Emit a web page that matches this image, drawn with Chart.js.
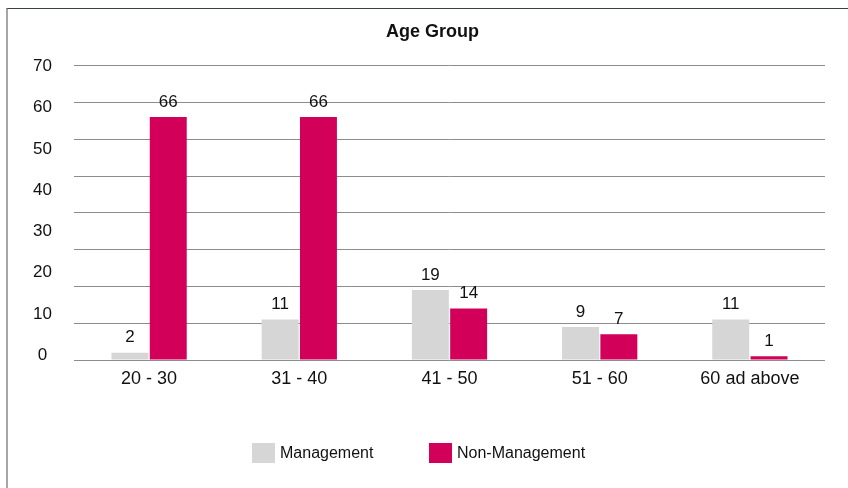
<!DOCTYPE html>
<html>
<head>
<meta charset="utf-8">
<script src="https://cdn.jsdelivr.net/npm/chart.js@4.4.1/dist/chart.umd.min.js"></script>
<style>
  html, body { margin: 0; padding: 0; background: #fff; }
  #wrap { position: relative; width: 848px; height: 488px; overflow: hidden; }
  #frame {
    position: absolute; left: 6px; top: 8px; right: -4px; bottom: -4px;
    border-left: 2px solid #a3a7a7; border-top: 1px solid #3b4141;
    pointer-events: none;
  }
  #legend {
    position: absolute; top: 443px; left: 252px;
    font-family: "Liberation Sans", Arial, Helvetica, sans-serif; font-size: 16px; color: #111;
    display: flex;
  }
  .item { display: flex; align-items: center; height: 20px; }
  .item:first-child { width: 177px; }
  .box { width: 23px; height: 20px; margin-right: 5px; }
</style>
</head>
<body>
<div id="wrap">
  <canvas id="chart" width="848" height="488"></canvas>
  <div id="frame"></div>
  <div id="legend"></div>
</div>
<script>
const ageGroups = ["20 - 30", "31 - 40", "41 - 50", "51 - 60", "60 ad above"];
const management = [2, 11, 19, 9, 11];
const nonManagement = [66, 66, 14, 7, 1];
const yTickLabels = [0, 10, 20, 30, 40, 50, 60, 70];

const FONT = '"Liberation Sans", Arial, Helvetica, sans-serif';

// value labels above each bar
const valueLabels = {
  id: 'valueLabels',
  afterDatasetsDraw(chart) {
    const ctx = chart.ctx;
    ctx.save();
    ctx.font = '17px ' + FONT;
    ctx.fillStyle = '#111';
    ctx.textAlign = 'center';
    ctx.textBaseline = 'middle';
    chart.data.datasets.forEach((ds, i) => {
      chart.getDatasetMeta(i).data.forEach((bar, j) => {
        ctx.fillText(String(ds.data[j]), bar.x, bar.y - 15);
      });
    });
    ctx.restore();
  }
};

const chart = new Chart(document.getElementById('chart'), {
  type: 'bar',
  data: {
    labels: ageGroups,
    datasets: [{
      label: 'Management',
      data: management,
      backgroundColor: '#d6d6d6',
      yAxisID: 'y'
    }, {
      label: 'Non-Management',
      data: nonManagement,
      backgroundColor: '#d20058',
      yAxisID: 'y'
    }]
  },
  options: {
    responsive: false,
    animation: false,
    layout: { padding: { left: 17, right: 0, top: 0, bottom: 95 } },
    datasets: { bar: { categoryPercentage: 0.51, barPercentage: 0.965 } },
    plugins: {
      legend: { display: false },
      tooltip: { enabled: false },
      title: {
        display: true,
        text: 'Age Group',
        color: '#111',
        font: { family: FONT, size: 18, weight: 'bold' },
        padding: { top: 21, bottom: 23 }
      }
    },
    scales: {
      x: {
        grid: { display: false, drawTicks: false },
        border: { display: false },
        ticks: { color: '#111', font: { family: FONT, size: 18 }, padding: 8, maxRotation: 0 },
        afterFit(scale) { scale.height = 33; }
      },
      y: {
        position: 'right',
        min: 0,
        max: 80,
        ticks: { display: false, stepSize: 10 },
        grid: { color: '#8c8c8c', lineWidth: 1, drawTicks: false },
        border: { display: false },
        afterFit(scale) { scale.width = 23; }
      },
      yLabels: {
        position: 'left',
        min: -1.14,
        max: 70.17,
        grid: { display: false, drawTicks: false },
        border: { display: false },
        ticks: { color: '#111', font: { family: FONT, size: 17 }, padding: 22, crossAlign: 'center' },
        afterBuildTicks(scale) { scale.ticks = yTickLabels.map(v => ({ value: v })); },
        afterFit(scale) { scale.width = 57; }
      }
    }
  },
  plugins: [valueLabels]
});

// html legend built from the datasets
const legend = document.getElementById('legend');
chart.data.datasets.forEach(ds => {
  const item = document.createElement('div');
  item.className = 'item';
  const box = document.createElement('span');
  box.className = 'box';
  box.style.background = ds.backgroundColor;
  const txt = document.createElement('span');
  txt.textContent = ds.label;
  item.appendChild(box);
  item.appendChild(txt);
  legend.appendChild(item);
});
</script>
</body>
</html>
